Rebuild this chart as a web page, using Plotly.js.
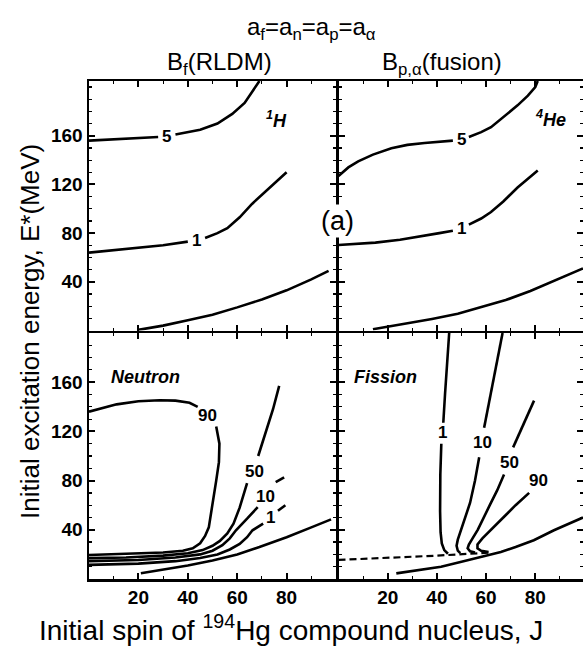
<!DOCTYPE html>
<html>
<head>
<meta charset="utf-8">
<script src="https://cdn.plot.ly/plotly-3.0.1.min.js"></script>
<style>html,body{margin:0;padding:0;background:#fff;}#chart{width:583px;height:647px;}</style>
</head>
<body>
<div id="chart"></div>
<script>
// ---------- data (J = initial spin, E = excitation energy in MeV) ----------
// Top-left panel: 1H, Bf(RLDM)
const tlJ5 = [0, 10, 20, 28, null, 35, 45, 52, 58, 63, 69];
const tlE5 = [156, 157, 158, 159, null, 161, 165, 170, 178, 187, 205];
const tlJ1 = [0, 18, 30, 40, null, 47, 52, 56, 61, 66, 72, 76, 80];
const tlE1 = [64, 67.6, 70, 73, null, 76, 80, 84, 93, 104, 115, 122, 130];
const tlJ0 = [20, 30, 40, 50, 60, 70, 80, 90, 97];
const tlE0 = [0.5, 4, 8.5, 13, 19, 25.5, 33, 42, 49];

// Top-right panel: 4He, Bp,alpha(fusion)
const trJ5 = [0, 4, 8, 14, 21.5, 28, 35, 42, 46.5, null, 53, 58, 62, 67, 72.8, 77, 80, 81];
const trE5 = [127, 134, 139, 144.5, 149.8, 152.5, 154, 155.3, 156, null, 159, 163, 167, 175, 185, 193, 200, 205];
const trJ1 = [0, 15, 25, 35, 41, 46.5, null, 53, 58, 62, 67, 72.8, 77, 81];
const trE1 = [70.3, 72.2, 74.5, 77.6, 80, 82, null, 87, 92, 97.3, 106, 117.5, 125, 131.5];
const trJ0 = [14, 20, 28, 38, 48.5, 58, 68, 78, 88, 99.4];
const trE0 = [1, 3, 5.7, 9.5, 13.7, 19, 25, 32.5, 41, 51];

// Bottom-left panel: Neutron (%)
const blJ90 = [0, 10, 20, 30, 38, 42, 45, 47, 48.5, 50, 51.5, 52.6, 52.8, 51.5, null, 44, 40.7, 35, 28.6, 20, 11.2, 0];
const blE90 = [19.5, 20, 20.5, 21.5, 23, 25, 29, 35, 42, 60, 80, 95, 110, 124, null, 140, 143.3, 145, 145.3, 144.5, 142, 136];
const blJ50 = [0, 15, 30, 40, 46, 50, 53, 56, 58.5, 61, 64, null, 68.5, 71.6, 74.5, 77];
const blE50 = [17, 17.5, 19, 21, 23.5, 27, 31, 37, 45, 58, 78, null, 100, 120.5, 138, 157];
const blJ10 = [0, 20, 35, 45, 50, 54, 57, 59.5, 64, 68.3, null, 75.6, 79];
const blE10 = [14.5, 15.5, 17.5, 20, 23, 27.5, 33, 39.6, 49, 58.4, null, 78.7, 82.7];
const blJ1 = [0, 20, 35, 45, 52, 57, 61, 64, 66.2, 70.5, null, 76.5, 79.5];
const blE1 = [11.5, 12.5, 14.5, 17, 20, 24, 28.5, 34, 39.6, 45, null, 55.5, 60];
const blJ0 = [21, 30, 40, 50, 60, 69, 80, 90, 98];
const blE0 = [4.6, 7.5, 11, 15, 20, 26, 34, 42, 48.5];

// Bottom-right panel: Fission (%)
const brJd = [0, 20, 40, 62];
const brEd = [15.5, 17, 19, 21.5];
const brJ1 = [45, 44, 43.3, 42.6, null, 41.8, 41.4, 41.3, 41.5, 42, 43, 44.5];
const brE1 = [200, 175, 150, 127, null, 110, 85, 55, 38, 29, 23.5, 20.5];
const brJ10 = [66.7, 64, 61.5, 59.2, null, 57.2, 55.5, 53.5, 51.5, 49.8, 48.5, 48, 48.5, 49.5];
const brE10 = [200, 172, 147, 123, null, 99, 80, 62, 50, 40, 32, 27, 23, 21];
const brJ50 = [79.5, 77, 74.5, 71, null, 67.3, 64.5, 61.5, 58.5, 56.6, 54.5, 53, 52.5, 53.5, 55.5];
const brE50 = [145, 134, 122, 107, null, 85, 72, 60, 48, 40, 33, 28, 25, 22.5, 21.5];
const brJ90 = [77.5, 72, 67, 62, 58.5, 56.5, 56.5, 58, 61];
const brE90 = [70, 60, 50, 40, 33, 28, 25, 23, 22];
const brJ0 = [23.5, 30, 41.7, 50, 58, 66, 72, 79.4, 87.6, 94, 99.4];
const brE0 = [4.6, 6.5, 10, 14, 18, 22, 26, 31.5, 39.6, 45, 50];

// contour labels: [panel, text, J, E]
const contourLabels = [
  ['tl', '5', 31.5, 159], ['tl', '1', 43.5, 74],
  ['tr', '5', 49.8, 157], ['tr', '1', 49.8, 84],
  ['bl', '90', 48.1, 132.6], ['bl', '50', 66.9, 87], ['bl', '10', 71.6, 67], ['bl', '1', 73.5, 50],
  ['br', '1', 42.3, 119], ['br', '10', 58.4, 111], ['br', '50', 69.4, 95], ['br', '90', 81.5, 80]
];
const panelLabels = [['tl', '<sup>1</sup>H', 76, 173], ['tr', '<sup>4</sup>He', 86, 174],
                     ['bl', 'Neutron', 23, 164], ['br', 'Fission', 19, 164]];
const xTickVals = [20, 40, 60, 80];
const yTickVals = [40, 80, 120, 160];

// ---------- layout ----------
const W = 583, H = 647, ML = 89, MR = 0, MT = 81, MB = 68;
const PW = W - ML - MR, PH = H - MT - MB;
const LW = 2.5;
const dX = 247 / PW;            // right edge of left panels
const dX2 = dX + LW / PW;       // left edge of right panels (shared line coincides)
const dY = 246 / PH;            // top of bottom panels
const dY2 = dY + LW / PH;       // bottom of top panels
const px2x = p => (p - ML) / PW;
const py2y = p => (H - MB - p) / PH;

const panelAxes = {
  bl: ['x', 'y'], br: ['x2', 'y3'], tl: ['x3', 'y2'], tr: ['x4', 'y4']
};
const lineStyle = {color: '#000', width: 2.6};
function tr(panel, J, E, dash) {
  const [xa, ya] = panelAxes[panel];
  return {x: J, y: E, xaxis: xa, yaxis: ya, mode: 'lines', type: 'scatter',
          line: Object.assign({}, lineStyle, dash ? {dash: '7px,4px', width: 2.2} : {}),
          connectgaps: false, hoverinfo: 'skip', showlegend: false};
}
const data = [
  tr('tl', tlJ5, tlE5), tr('tl', tlJ1, tlE1), tr('tl', tlJ0, tlE0),
  tr('tr', trJ5, trE5), tr('tr', trJ1, trE1), tr('tr', trJ0, trE0),
  tr('bl', blJ90, blE90), tr('bl', blJ50, blE50), tr('bl', blJ10, blE10), tr('bl', blJ1, blE1), tr('bl', blJ0, blE0),
  tr('br', brJd, brEd, true), tr('br', brJ1, brE1), tr('br', brJ10, brE10), tr('br', brJ50, brE50),
  tr('br', brJ90, brE90), tr('br', brJ0, brE0)
];

const tickFont = {family: 'Liberation Sans, Arial, sans-serif', size: 19, color: '#000', weight: 'bold'};
function axCommon(domain, anchor, labels, range, vals) {
  return {domain, anchor, range, showline: true, linecolor: '#000', linewidth: LW, mirror: 'allticks',
          ticks: 'inside', ticklen: 6, tickwidth: 2, tickcolor: '#000', tickmode: 'array', tickvals: vals,
          showticklabels: labels, tickfont: tickFont, showgrid: false, zeroline: false, fixedrange: true,
          minor: {ticks: 'inside', ticklen: 3, tickwidth: 1.2, tickcolor: '#000', dtick: 10, tick0: 0, showgrid: false}};
}

const annFont = {family: 'Liberation Sans, Arial, sans-serif', color: '#000'};
const annotations = [];
contourLabels.forEach(([p, t, J, E]) => {
  const [xa, ya] = panelAxes[p];
  annotations.push({xref: xa, yref: ya, x: J, y: E, text: t, showarrow: false, xanchor: 'center', yanchor: 'middle',
    font: Object.assign({}, annFont, {size: 17, weight: 'bold'})});
});
panelLabels.forEach(([p, t, J, E]) => {
  const [xa, ya] = panelAxes[p];
  annotations.push({xref: xa, yref: ya, x: J, y: E, text: '<i>' + t + '</i>', showarrow: false, xanchor: 'center', yanchor: 'middle',
    font: Object.assign({}, annFont, {size: 18, weight: 'bold'})});
});
function paperText(px, py, text, size, extra) {
  annotations.push(Object.assign({xref: 'paper', yref: 'paper', x: px2x(px), y: py2y(py), text, showarrow: false,
    xanchor: 'center', yanchor: 'middle', font: Object.assign({}, annFont, {size})}, extra || {}));
}
annotations.push({xref: 'paper', yref: 'y2', x: (dX + dX2) / 2, y: 90, text: '(a)', showarrow: false,
  xanchor: 'center', yanchor: 'middle', bgcolor: '#fff', borderpad: 1, font: Object.assign({}, annFont, {size: 27})});
paperText(311, 28, 'a<sub>f</sub>=a<sub>n</sub>=a<sub>p</sub>=a<sub>α</sub>', 24);
paperText(219, 63, 'B<sub>f</sub>(RLDM)', 24);
paperText(442, 63, 'B<sub>p,α</sub>(fusion)', 24);
paperText(30, 332, 'Initial excitation energy, E*(MeV)', 26, {textangle: -90});
paperText(291, 628, 'Initial spin of <sup>194</sup>Hg compound nucleus, J', 28);

const layout = {
  width: W, height: H, margin: {l: ML, r: MR, t: MT, b: MB, pad: 0},
  paper_bgcolor: '#fff', plot_bgcolor: '#fff', showlegend: false,
  xaxis: axCommon([0, dX], 'y', true, [0, 100], xTickVals),
  xaxis2: axCommon([dX2, 1], 'y3', true, [0, 99.4], xTickVals),
  xaxis3: axCommon([0, dX], 'y2', false, [0, 100], xTickVals),
  xaxis4: axCommon([dX2, 1], 'y4', false, [0, 99.4], xTickVals),
  yaxis: axCommon([0, dY], 'x', true, [0, 200], yTickVals),
  yaxis2: axCommon([dY2, 1], 'x3', true, [0, 205], yTickVals),
  yaxis3: axCommon([0, dY], 'x2', false, [0, 200], yTickVals),
  yaxis4: axCommon([dY2, 1], 'x4', false, [0, 205], yTickVals),
  annotations
};
Plotly.newPlot('chart', data, layout, {displayModeBar: false, staticPlot: true});
</script>
</body>
</html>
